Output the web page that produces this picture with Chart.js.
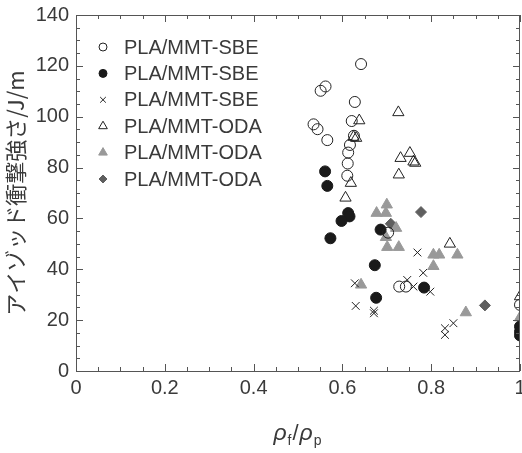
<!DOCTYPE html>
<html>
<head>
<meta charset="utf-8">
<script src="https://cdn.jsdelivr.net/npm/chart.js@4.4.1/dist/chart.umd.min.js"></script>
<style>
  body { margin: 0; background: #fff; }
  canvas { display: block; }
</style>
</head>
<body>
<canvas id="izodChart" width="522" height="453"></canvas>
<script>
// density ratio rho_f/rho_p vs Izod impact strength [J/m]
var sbeOpen = [[0.642,120.7],[0.562,111.9],[0.551,110.2],[0.628,105.8],[0.535,97],[0.544,95.1],
  [0.621,98.3],[0.566,90.8],[0.626,92.5],[0.617,88.9],[0.613,85.9],[0.612,81.6],[0.611,76.8],
  [0.703,54.4],[0.728,33.2],[0.743,33.2],[1.0,26]];
var sbeFilled = [[0.561,78.5],[0.566,72.8],[0.613,62.1],[0.616,60.8],[0.598,59],[0.573,52.2],
  [0.686,55.6],[0.673,41.6],[0.676,28.8],[0.784,32.8],[1.0,17.5],[1.0,15.5],[1.0,14]];
var sbeCross = [[0.628,34.5],[0.63,25.6],[0.671,23.7],[0.671,22.7],[0.746,35.8],[0.76,33.2],
  [0.769,46.6],[0.782,38.6],[0.798,31.2],[0.831,16.8],[0.831,14.2],[0.85,18.8]];
var odaOpen = [[0.726,101.7],[0.638,98.5],[0.625,92],[0.631,91.6],[0.731,83.7],[0.752,85.7],
  [0.76,82.3],[0.764,81.8],[0.727,77.2],[0.619,73.9],[0.607,68.1],[0.842,50],[1.0,29.3]];
var odaGray = [[0.7,65.4],[0.677,62.1],[0.698,62.1],[0.721,56.2],[0.698,52.6],[0.701,48.7],
  [0.727,48.7],[0.642,33.9],[0.805,45.7],[0.818,45.7],[0.859,45.7],[0.805,41.2],[0.878,23],[1.0,21]];
var odaDiamond = [[0.777,62.5],[0.709,57.9],[0.921,25.8]];

var seriesLabels = ['PLA/MMT-SBE','PLA/MMT-SBE','PLA/MMT-SBE','PLA/MMT-ODA','PLA/MMT-ODA','PLA/MMT-ODA'];
var xTicks = [0, 0.2, 0.4, 0.6, 0.8, 1];
var yTicks = [0, 20, 40, 60, 80, 100, 120, 140];

var ink = '#3a3a3a';
var latin = '"Liberation Sans", Arial, sans-serif';

function pts(arr) {
  return arr.map(function (p) { return { x: p[0], y: p[1] }; });
}

var styles = [
  { pointStyle: 'circle',   radius: 5.5, bg: 'rgba(0,0,0,0)', border: '#222', bw: 1 },
  { pointStyle: 'circle',   radius: 5.5, bg: '#1a1a1a',       border: '#1a1a1a', bw: 1 },
  { pointStyle: 'crossRot', radius: 5.5, bg: 'rgba(0,0,0,0)', border: '#222', bw: 1 },
  { pointStyle: 'triangle', radius: 6.5, bg: 'rgba(0,0,0,0)', border: '#222', bw: 1 },
  { pointStyle: 'triangle', radius: 6.5, bg: '#999999',       border: '#999999', bw: 1 },
  { pointStyle: 'rectRot',  radius: 5.5, bg: '#5f5f5f',       border: '#5f5f5f', bw: 1 }
];
var seriesData = [sbeOpen, sbeFilled, sbeCross, odaOpen, odaGray, odaDiamond];

var datasets = seriesData.map(function (d, i) {
  var s = styles[i];
  return {
    label: seriesLabels[i],
    data: pts(d),
    pointStyle: s.pointStyle,
    pointRadius: s.radius,
    pointHoverRadius: s.radius,
    backgroundColor: s.bg,
    borderColor: s.border,
    borderWidth: s.bw,
    showLine: false
  };
});

// frame with inward major/minor ticks on all four sides
var frameTicks = {
  id: 'frameTicks',
  afterDraw: function (chart) {
    var ctx = chart.ctx, a = chart.chartArea;
    var xs = chart.scales.x, ys = chart.scales.y;
    ctx.save();
    ctx.strokeStyle = '#555';
    ctx.lineWidth = 1;
    ctx.strokeRect(a.left + 0.5, a.top + 0.5, a.right - a.left - 1, a.bottom - a.top);
    ctx.beginPath();
    for (var i = 0; i <= 20; i++) {
      var px = Math.round(xs.getPixelForValue(i * 0.05)) + 0.5;
      var len = (i % 4 === 0) ? 7 : 4;
      ctx.moveTo(px, a.bottom); ctx.lineTo(px, a.bottom - len);
      ctx.moveTo(px, a.top); ctx.lineTo(px, a.top + len);
    }
    for (var j = 0; j <= 28; j++) {
      var py = Math.round(ys.getPixelForValue(j * 5)) + 0.5;
      var l2 = (j % 4 === 0) ? 7 : 4;
      ctx.moveTo(a.left, py); ctx.lineTo(a.left + l2, py);
      ctx.moveTo(a.right, py); ctx.lineTo(a.right - l2, py);
    }
    ctx.stroke();
    ctx.restore();
  }
};

// legend inside the plot, upper left
var innerLegend = {
  id: 'innerLegend',
  afterDraw: function (chart) {
    var ctx = chart.ctx;
    ctx.save();
    ctx.font = '20px ' + latin;
    ctx.textBaseline = 'middle';
    chart.data.datasets.forEach(function (ds, i) {
      var y = 47 + i * 26.4;
      var s = styles[i];
      ctx.fillStyle = s.bg;
      ctx.strokeStyle = s.border;
      ctx.lineWidth = s.bw;
      Chart.helpers.drawPoint(ctx, { pointStyle: s.pointStyle, radius: s.radius - 1.5, rotation: 0, borderWidth: s.bw }, 103, y);
      ctx.fillStyle = ink;
      ctx.fillText(ds.label, 124, y + 1);
    });
    ctx.restore();
  }
};

// x-axis title: rho_f / rho_p with subscripts
var xTitle = {
  id: 'xTitle',
  afterDraw: function (chart) {
    var ctx = chart.ctx;
    var parts = [
      { t: 'ρ', f: 'italic 23px ' + latin, dy: 0 },
      { t: 'f', f: '14px ' + latin, dy: 5 },
      { t: '/', f: '22px ' + latin, dy: 0 },
      { t: 'ρ', f: 'italic 23px ' + latin, dy: 0 },
      { t: 'p', f: '14px ' + latin, dy: 5 }
    ];
    ctx.save();
    ctx.fillStyle = ink;
    ctx.textBaseline = 'alphabetic';
    var w = 0;
    parts.forEach(function (p) { ctx.font = p.f; w += ctx.measureText(p.t).width + 1; });
    var a = chart.chartArea;
    var x = (a.left + a.right) / 2 - w / 2;
    parts.forEach(function (p) {
      ctx.font = p.f;
      ctx.fillText(p.t, x, 440 + p.dy);
      x += ctx.measureText(p.t).width + 1;
    });
    ctx.restore();
  }
};

new Chart(document.getElementById('izodChart'), {
  type: 'scatter',
  data: { datasets: datasets },
  options: {
    responsive: false,
    animation: false,
    events: [],
    layout: { autoPadding: false, padding: { left: 0, top: 15, right: 2, bottom: 0 } },
    plugins: { legend: { display: false }, tooltip: { enabled: false } },
    scales: {
      x: {
        type: 'linear', min: 0, max: 1,
        afterFit: function (s) { s.height = 82; s.paddingLeft = 0; s.paddingRight = 0; },
        afterBuildTicks: function (s) { s.ticks = xTicks.map(function (v) { return { value: v }; }); },
        grid: { display: false, drawTicks: false },
        border: { display: false },
        ticks: { color: ink, font: { family: latin, size: 20 }, padding: 5, maxRotation: 0,
          callback: function (v) { return String(v); } }
      },
      y: {
        type: 'linear', min: 0, max: 140,
        afterFit: function (s) { s.width = 76; s.paddingTop = 0; s.paddingBottom = 0; },
        afterBuildTicks: function (s) { s.ticks = yTicks.map(function (v) { return { value: v }; }); },
        grid: { display: false, drawTicks: false },
        border: { display: false },
        ticks: { color: ink, font: { family: latin, size: 20 }, padding: 7 },
        title: { display: true, text: 'アイゾッド衝撃強さ/J/m', color: ink,
          font: { family: '"Noto Sans CJK JP", sans-serif', size: 22 }, padding: { top: 2, bottom: 0 } }
      }
    }
  },
  plugins: [frameTicks, innerLegend, xTitle]
});
</script>
</body>
</html>
